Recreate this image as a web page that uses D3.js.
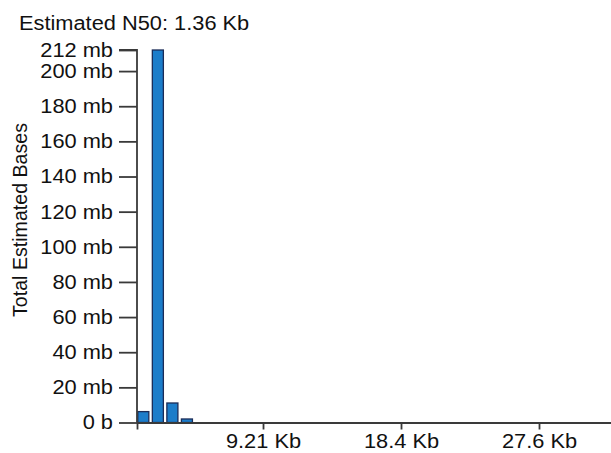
<!DOCTYPE html>
<html>
<head>
<meta charset="utf-8">
<script src="https://cdn.jsdelivr.net/npm/d3@7"></script>
<style>
  body { margin: 0; background: #fff; }
  svg { display: block; }
  text { font-family: "Liberation Sans", Arial, sans-serif; fill: #111; }
</style>
</head>
<body>
<script>
// read length histogram (bins in Kb, bases in mb)
const binStart = [0.80, 1.77, 2.74, 3.71];
const binWidth = 0.97;
const bases = [6.2, 212, 11.1, 2.0];

const yTicks = [0, 20, 40, 60, 80, 100, 120, 140, 160, 180, 200, 212];
const xTicks = [0.80, 9.21, 18.42, 27.63];
const xTickLabels = ['', '9.21 Kb', '18.4 Kb', '27.6 Kb'];
const title = 'Estimated N50: 1.36 Kb';
const yTitle = 'Total Estimated Bases';

const W = 611, H = 453;
const fontSize = 20;
const stretch = 1.09; // picture is a bit wider than tall

const svg = d3.select('body').append('svg')
    .attr('width', W)
    .attr('height', H);

const x = d3.scaleLinear()
    .domain([0.80, 36.84])
    .range([137, 677]);

const y = d3.scaleLinear()
    .domain([0, 212])
    .range([422.5, 50]);

// bars
svg.selectAll('.bar')
    .data(binStart)
    .enter()
    .append('rect')
    .attr('class', 'bar')
    .attr('x', d => x(d) + 0.8)
    .attr('y', (d, i) => y(bases[i]))
    .attr('width', d => x(d + binWidth) - x(d) - 3.5)
    .attr('height', (d, i) => y(0) - y(bases[i]))
    .attr('fill', '#1c7dca')
    .attr('stroke', '#1b2c58')
    .attr('stroke-width', 1.3);

// y axis
const yAxis = svg.append('g')
    .attr('transform', `translate(${x(0.80)},0)`)
    .call(d3.axisLeft(y)
        .tickValues(yTicks)
        .tickSize(18)
        .tickPadding(6)
        .tickFormat(d => d === 0 ? '0 b' : d + ' mb'));

// x axis
const xAxis = svg.append('g')
    .attr('transform', `translate(0,${y(0)})`)
    .call(d3.axisBottom(x)
        .tickValues(xTicks)
        .tickSize(7)
        .tickSizeOuter(0)
        .tickPadding(4)
        .tickFormat((d, i) => xTickLabels[i]));

[yAxis, xAxis].forEach(g => {
    g.select('.domain').attr('stroke', '#3a3a3a').attr('stroke-width', 1.8);
    g.selectAll('.tick line').attr('stroke', '#3a3a3a').attr('stroke-width', 1.8);
    g.selectAll('.tick text')
        .attr('font-size', fontSize)
        .attr('font-family', '"Liberation Sans", Arial, sans-serif')
        .attr('fill', '#111');
});
yAxis.select('.domain').attr('d', `M-18,${y(212)}H0V${y(0)}`);

// titles
svg.append('text')
    .attr('class', 'wide')
    .attr('x', 19)
    .attr('y', 30)
    .attr('font-size', fontSize)
    .text(title);

svg.append('text')
    .attr('transform', 'translate(27,220) rotate(-90)')
    .attr('text-anchor', 'middle')
    .attr('font-size', 19.6)
    .text(yTitle);

// widen horizontal texts to follow the picture's aspect
svg.selectAll('.wide, .tick text').each(function () {
    const len = this.getComputedTextLength();
    if (len > 0) {
        d3.select(this)
            .attr('textLength', len * stretch)
            .attr('lengthAdjust', 'spacingAndGlyphs');
    }
});
</script>
</body>
</html>
